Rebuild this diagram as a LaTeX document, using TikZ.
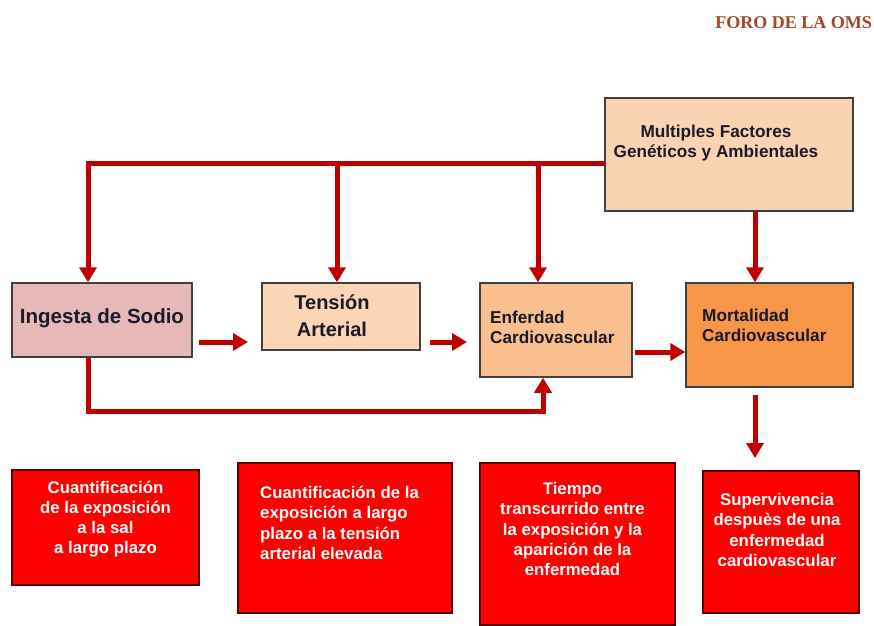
\documentclass[tikz,border=0pt]{standalone}
\usepackage{fontspec}
\setmainfont{Liberation Sans}
\newfontfamily\titlefont{Liberation Serif}
\usetikzlibrary{arrows.meta}
\definecolor{arrowred}{HTML}{C00000}
\definecolor{boxline}{HTML}{404040}
\definecolor{multfill}{HTML}{FAD3B2}
\definecolor{ingfill}{HTML}{E6B9B8}
\definecolor{tenfill}{HTML}{FBD5B5}
\definecolor{enffill}{HTML}{F9BF8F}
\definecolor{morfill}{HTML}{F79646}
\definecolor{redfill}{HTML}{FF0000}
\definecolor{redline}{HTML}{5A0000}
\definecolor{titlecol}{HTML}{A34626}
\definecolor{txt}{HTML}{1A1A2A}
\begin{document}
\begin{tikzpicture}[x=1pt,y=-1pt,
  box/.style={draw=boxline,line width=1.5pt,inner sep=0pt},
  redbox/.style={draw=redline,line width=1.5pt,fill=redfill,inner sep=0pt},
  lbl/.style={inner sep=0pt,text=txt,font=\bfseries\fontsize{17.2}{20}\selectfont},
  wlbl/.style={inner sep=0pt,text=white,font=\bfseries\fontsize{16.8}{20.2}\selectfont},
  conn/.style={draw=arrowred,line width=5pt},
  arr/.style={conn,-{Triangle[length=15pt,width=17pt]}}]
\useasboundingbox (0,0) rectangle (874,625);
\fill[white] (0,0) rectangle (874,625);
% title
\node[inner sep=0pt,text=titlecol,font=\titlefont\bfseries\fontsize{18}{20}\selectfont,anchor=east] (title) at (872,23) {FORO DE LA OMS};
% top boxes
\node[box,fill=multfill,minimum width=248pt,minimum height=113pt] (mult) at (729,154.5) {};
\node[box,fill=ingfill,minimum width=180pt,minimum height=74pt] (ing) at (102,320) {};
\node[box,fill=tenfill,minimum width=158pt,minimum height=67pt] (ten) at (341,316.5) {};
\node[box,fill=enffill,minimum width=152pt,minimum height=94pt] (enf) at (556,330) {};
\node[box,fill=morfill,minimum width=167pt,minimum height=104pt] (mor) at (769.5,335) {};
% texts
\node[lbl,align=center] (multt) at (716,143) {Multiples Factores\\Genéticos y Ambientales};
\node[lbl,font=\bfseries\fontsize{20.5}{26}\selectfont] (ingt) at (102,318) {Ingesta de Sodio};
\node[lbl,align=center,font=\bfseries\fontsize{20}{27}\selectfont] (tent) at (332,315.5) {Tensión\\Arterial};
\node[lbl,align=left,anchor=west] (enft) at (490,327) {Enferdad\\Cardiovascular};
\node[lbl,align=left,anchor=west] (mort) at (702,325) {Mortalidad\\Cardiovascular};
% bottom boxes
\node[redbox,minimum width=187pt,minimum height=115pt] (b1) at (105.5,527.5) {};
\node[redbox,minimum width=214pt,minimum height=150pt] (b2) at (345,538) {};
\node[redbox,minimum width=195pt,minimum height=162pt] (b3) at (577.5,544) {};
\node[redbox,minimum width=156pt,minimum height=142pt] (b4) at (781,542) {};
\node[wlbl,align=center] (b1t) at (105.5,519) {Cuantificación\\de la exposición\\a la sal\\a largo plazo};
\node[wlbl,align=left,anchor=west] (b2t) at (260,523) {Cuantificación de la\\exposición a largo\\plazo a la tensión\\arterial elevada};
\node[wlbl,align=center] (b3t) at (572.5,529) {Tiempo\\transcurrido entre\\la exposición y la\\aparición de la\\enfermedad};
\node[wlbl,align=center] (b4t) at (777,530) {Supervivencia\\despuès de una\\enfermedad\\cardiovascular};
% connector coordinates
\coordinate (top) at (605,163);
\coordinate (tl) at (88,163);
\coordinate (tten) at (337,163);
\coordinate (tenf) at (538,163);
\coordinate (bl) at (88,411);
\coordinate (br) at (543,411);
\coordinate (a1s) at (199,342);
\coordinate (a1e) at (248,342);
\coordinate (a2s) at (430,342);
\coordinate (a2e) at (467,342);
\coordinate (a3s) at (635,352);
\coordinate (a4s) at (755,395);
\coordinate (a4e) at (755,458);
% connectors
\draw[arr] (top) -- (tl) -- (tl |- ing.north);
\draw[arr] (tten) -- (tten |- ten.north);
\draw[arr] (tenf) -- (tenf |- enf.north);
\draw[arr] (mult.south -| a4s) -- (mor.north -| a4s);
\draw[arr] (tl |- ing.south) -- (bl) -- (br) -- (br |- enf.south);
\draw[arr] (a1s) -- (a1e);
\draw[arr] (a2s) -- (a2e);
\draw[arr] (a3s) -- (a3s -| mor.west);
\draw[arr] (a4s) -- (a4e);
\end{tikzpicture}
\end{document}
